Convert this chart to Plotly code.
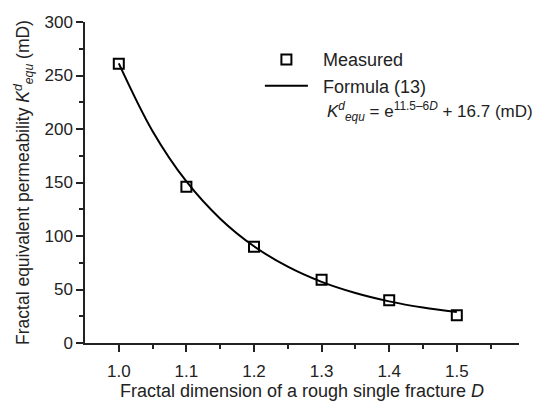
import plotly.graph_objects as go

# Measured data
D_measured = [1.0, 1.1, 1.2, 1.3, 1.4, 1.5]
K_measured = [261, 146, 90, 59, 40, 26]

# Formula (13) curve
D_curve = [1.0, 1.05, 1.1, 1.15, 1.2, 1.25, 1.3, 1.35, 1.4, 1.45, 1.5]
K_curve = [261.4, 198.0, 151.0, 116.2, 90.4, 71.3, 57.1, 46.7, 38.9, 33.1, 28.9]

x_ticks = [1.0, 1.1, 1.2, 1.3, 1.4, 1.5]
x_ticklabels = ["1.0", "1.1", "1.2", "1.3", "1.4", "1.5"]
y_ticks = [0, 50, 100, 150, 200, 250, 300]

FONT = "Liberation Sans, Arial, sans-serif"
TXT = "#222"

fig = go.Figure()
fig.add_trace(go.Scatter(
    x=D_curve, y=K_curve, mode="lines", name="&nbsp;&nbsp;Formula (13)",
    line=dict(color="black", width=2, shape="spline"), legendrank=2,
))
fig.add_trace(go.Scatter(
    x=D_measured, y=K_measured, mode="markers", name="&nbsp;&nbsp;Measured",
    marker=dict(symbol="square-open", size=10, color="black",
                line=dict(color="black", width=2)), legendrank=1,
))

fig.add_annotation(
    x=0.553, y=0.72, xref="paper", yref="paper", showarrow=False,
    text="<i>K</i><sup><i>d</i></sup><sub><i>equ</i></sub> = e<sup>11.5–6<i>D</i></sup> + 16.7 (mD)",
    font=dict(family=FONT, size=17, color=TXT), xanchor="left", yanchor="middle",
)

fig.update_layout(
    width=534, height=402,
    margin=dict(l=85, r=15, t=22, b=59),
    paper_bgcolor="white", plot_bgcolor="white",
    font=dict(family=FONT, size=17, color=TXT),
    showlegend=True,
    legend=dict(x=0.403, y=0.94, xanchor="left", yanchor="top",
                bgcolor="rgba(0,0,0,0)", font=dict(size=18, color=TXT),
                itemwidth=43),
    xaxis=dict(
        range=[0.95, 1.592], tickvals=x_ticks, ticktext=x_ticklabels,
        showgrid=False, zeroline=False, showline=True, linecolor="#222", linewidth=1.5,
        ticks="outside", ticklen=7, tickwidth=1.5, tickcolor="#222",
        tickfont=dict(size=17, color=TXT), ticklabelstandoff=5,
        automargin=False,
        minor=dict(tickvals=[1.05, 1.15, 1.25, 1.35, 1.45, 1.55], ticks="outside",
                   ticklen=4, tickwidth=1.5, tickcolor="#222"),
        title=dict(text="Fractal dimension of a rough single fracture <i>D</i>",
                   font=dict(size=18, color=TXT), standoff=4),
    ),
    yaxis=dict(
        range=[0, 300], tickvals=y_ticks,
        showgrid=False, zeroline=False, showline=True, linecolor="#222", linewidth=1.5,
        ticks="outside", ticklen=7, tickwidth=1.5, tickcolor="#222",
        tickfont=dict(size=17, color=TXT),
        automargin=False,
        minor=dict(tickvals=[25, 75, 125, 175, 225, 275], ticks="outside",
                   ticklen=4, tickwidth=1.5, tickcolor="#222"),
        title=dict(text="Fractal equivalent permeability <i>K</i><sup><i>d</i></sup><sub><i>equ</i></sub> (mD)",
                   font=dict(size=17.5, color=TXT), standoff=10),
    ),
)

fig.write_html("out.html", config={"displayModeBar": False},
               post_script="document.body.style.margin='0';")
